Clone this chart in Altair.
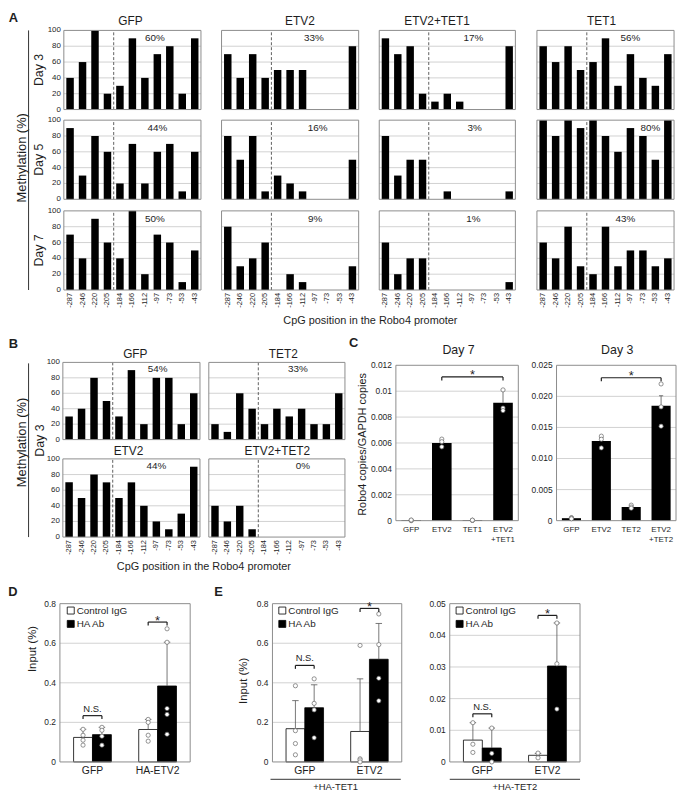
import pandas as pd
import altair as alt

# ---------------- data ----------------
CPG_POSITIONS = ["-287", "-246", "-220", "-205", "-184", "-166", "-112", "-97", "-73", "-53", "-43"]

A_GROUPS = ["GFP", "ETV2", "ETV2+TET1", "TET1"]
A_DAYS = ["Day 3", "Day 5", "Day 7"]
A_GFP = [[40, 60, 100, 20, 30, 90, 40, 70, 80, 20, 90],
         [90, 30, 80, 60, 20, 70, 20, 60, 70, 10, 60],
         [70, 40, 90, 60, 40, 100, 20, 70, 60, 10, 50]]
A_ETV2 = [[70, 40, 70, 40, 50, 50, 50, 0, 0, 0, 80],
          [80, 50, 80, 10, 30, 20, 10, 0, 0, 0, 50],
          [80, 30, 40, 60, 0, 20, 10, 0, 0, 0, 30]]
A_ETV2_TET1 = [[90, 70, 80, 20, 10, 20, 10, 0, 0, 0, 80],
               [80, 30, 50, 50, 0, 10, 0, 0, 0, 0, 10],
               [60, 20, 40, 40, 0, 0, 0, 0, 0, 0, 10]]
A_TET1 = [[80, 60, 80, 50, 60, 90, 30, 70, 40, 30, 70],
          [100, 80, 100, 90, 100, 80, 60, 90, 80, 50, 100],
          [60, 40, 80, 30, 20, 80, 30, 50, 50, 30, 40]]
A_PCT = [["60%", "33%", "17%", "56%"],
         ["44%", "16%", "3%", "80%"],
         ["50%", "9%", "1%", "43%"]]

B_GROUPS = ["GFP", "TET2", "ETV2", "ETV2+TET2"]
B_GFP = [30, 40, 80, 50, 30, 90, 20, 80, 80, 20, 60]
B_TET2 = [20, 10, 60, 40, 20, 40, 30, 40, 20, 20, 60]
B_ETV2 = [70, 50, 80, 70, 50, 70, 40, 20, 10, 30, 90]
B_ETV2_TET2 = [40, 20, 40, 10, 0, 0, 0, 0, 0, 0, 0]
B_PCT = ["54%", "33%", "44%", "0%"]

C7_CATS = ["GFP", "ETV2", "TET1", "ETV2+TET1"]
C7_MEAN = [0.00005, 0.0060, 0.00005, 0.0091]
C7_TOP = [0.00005, 0.0062, 0.00005, 0.0101]
C7_PTS = [[0.0, 0.00003, 0.00005], [0.0063, 0.0061, 0.0057],
          [0.00002, 0.00003, 0.00004], [0.0101, 0.0087, 0.0085]]
C3_CATS = ["GFP", "ETV2", "TET2", "ETV2+TET2"]
C3_MEAN = [0.0004, 0.0128, 0.0022, 0.0185]
C3_TOP = [0.0005, 0.0134, 0.0024, 0.0201]
C3_PTS = [[0.0005, 0.0004, 0.0003], [0.0136, 0.0131, 0.0117],
          [0.0025, 0.0022, 0.0020], [0.0220, 0.0183, 0.0152]]

SERIES = ["Control IgG", "HA Ab"]
D_GROUPS = ["GFP", "HA-ETV2"]
D_CTRL_MEAN = [0.124, 0.164]
D_HA_MEAN = [0.138, 0.384]
D_CTRL_TOP = [0.165, 0.215]
D_HA_TOP = [0.175, 0.605]
D_CTRL_PTS = [[0.165, 0.135, 0.11, 0.085], [0.215, 0.2, 0.135, 0.105]]
D_HA_PTS = [[0.175, 0.16, 0.13, 0.085], [0.673, 0.605, 0.27, 0.24, 0.14]]

E_GROUPS = ["GFP", "ETV2"]
E1_CTRL_MEAN = [0.168, 0.154]
E1_HA_MEAN = [0.274, 0.519]
E1_CTRL_TOP = [0.31, 0.42]
E1_HA_TOP = [0.39, 0.70]
E1_CTRL_PTS = [[0.385, 0.158, 0.093, 0.036], [0.589, 0.016, 0.01, 0.0]]
E1_HA_PTS = [[0.42, 0.296, 0.263, 0.122], [0.748, 0.593, 0.423, 0.309]]
E2_CTRL_MEAN = [0.0069, 0.0021]
E2_HA_MEAN = [0.0044, 0.0303]
E2_CTRL_TOP = [0.0124, 0.0027]
E2_HA_TOP = [0.0107, 0.0439]
E2_CTRL_PTS = [[0.0124, 0.0056, 0.003], [0.0028, 0.0013]]
E2_HA_PTS = [[0.0107, 0.0027, 0.0], [0.0439, 0.031, 0.0167]]

# ---------------- layout ----------------
W, H = 676, 786
SX = W / 683.0
SY = H / 806.0


def cx(v):
    return round((v - 2) * SX, 2)


def cy(v):
    return round((v - 2) * SY, 2)


FONT = "Liberation Sans"
INK = "#1e1e1e"
GRID = "#c6c6c6"
FRAME = "#8c8c8c"
ONE = pd.DataFrame({"k": [0]})


def qscale(dom, rng):
    return alt.Scale(domain=dom, range=rng, nice=False, zero=False)


def frame_grid(xs, ys, x0, x1, ymax, gvals):
    X = lambda v: alt.XDatum(v, scale=xs, axis=None, type="quantitative")
    Y = lambda v: alt.YDatum(v, scale=ys, axis=None, type="quantitative")
    grid = alt.Chart(pd.DataFrame({"g": gvals})).mark_rule(color=GRID, strokeWidth=0.8).encode(
        x=X(x0), x2=alt.X2Datum(x1), y=alt.Y("g:Q", scale=ys, axis=None))
    frame = alt.Chart(ONE).mark_rect(fillOpacity=0, stroke=FRAME, strokeWidth=1).encode(
        x=X(x0), x2=alt.X2Datum(x1), y=Y(0), y2=alt.Y2Datum(ymax))
    return grid, frame


def y_labels(ys, ticks, x_px, expr, size):
    """Tick labels placed through the panel's y scale."""
    return alt.Chart(pd.DataFrame({"v": ticks})).transform_calculate(t=expr).mark_text(
        font=FONT, fontSize=size, color=INK, align="right", baseline="middle").encode(
        y=alt.Y("v:Q", scale=ys, axis=None), x=alt.value(x_px), text="t:N")


def meth_panel(vals, pct, pct_x, xr, yr, show_y, show_x, pct_y=90):
    xs = qscale([0.5, 11.5], [cx(xr[0]), cx(xr[1])])
    ys = qscale([0, 100], [cy(yr[1]), cy(yr[0])])
    X = lambda v: alt.XDatum(v, scale=xs, axis=None, type="quantitative")
    Y = lambda v: alt.YDatum(v, scale=ys, axis=None, type="quantitative")
    grid, frame = frame_grid(xs, ys, 0.5, 11.5, 100, [20, 40, 60, 80])
    df = pd.DataFrame({"pos": CPG_POSITIONS, "v": vals, "i": list(range(1, 12))})
    bars = alt.Chart(df).transform_calculate(
        lo="datum.i - 0.3", hi="datum.i + 0.3", z="0"
    ).mark_rect(color="black").encode(
        x=alt.X("lo:Q", scale=xs, axis=None), x2="hi:Q",
        y=alt.Y("v:Q", scale=ys, axis=None), y2="z:Q")
    dash = alt.Chart(ONE).mark_rule(color="#4d4d4d", strokeDash=[3, 2], strokeWidth=0.9).encode(
        x=X(4.5), y=Y(0), y2=alt.Y2Datum(100))
    txt = alt.Chart(pd.DataFrame({"t": [pct]})).mark_text(
        font=FONT, fontSize=10, color=INK, baseline="middle").encode(
        x=X(pct_x), y=Y(pct_y), text="t:N")
    parts = [grid, bars, dash, frame, txt]
    if show_y:
        parts.append(y_labels(ys, [0, 20, 40, 60, 80, 100], cx(xr[0]) - 3,
                              "format(datum.v, '~g')", 8))
    if show_x:
        parts.append(alt.Chart(df).mark_text(
            font=FONT, fontSize=7.5, color=INK, angle=270, align="right", baseline="middle").encode(
            x=alt.X("i:Q", scale=xs, axis=None), y=alt.value(cy(yr[1]) + 3), text="pos:N"))
    return alt.layer(*parts)


def bracket_layers(xs, ys, px_per, i1, i2, yb, label):
    X = lambda v: alt.XDatum(v, scale=xs, axis=None, type="quantitative")
    Y = lambda v: alt.YDatum(v, scale=ys, axis=None, type="quantitative")
    leg = 3.5 / px_per
    hb = alt.Chart(ONE).mark_rule(color=INK, strokeWidth=1.2).encode(
        x=X(i1), x2=alt.X2Datum(i2), y=Y(yb))
    legs = alt.Chart(pd.DataFrame({"e": [i1, i2]})).mark_rule(color=INK, strokeWidth=1.2).encode(
        x=alt.X("e:Q", scale=xs, axis=None), y=Y(yb), y2=alt.Y2Datum(yb - leg))
    if label == "*":
        t = alt.Chart(pd.DataFrame({"t": [label]})).mark_text(
            font=FONT, fontSize=13, color=INK, baseline="alphabetic", dy=2.5).encode(
            x=X((i1 + i2) / 2), y=Y(yb), text="t:N")
    else:
        t = alt.Chart(pd.DataFrame({"t": [label]})).mark_text(
            font=FONT, fontSize=9.5, color=INK, baseline="alphabetic", dy=-4).encode(
            x=X((i1 + i2) / 2), y=Y(yb), text="t:N")
    return [hb, legs, t]


def expr_panel(cats, means, tops, pts, ticks, ylabel_expr, xr, yr, bracket):
    n = len(cats)
    ymax = ticks[-1]
    xs = qscale([-0.5, n - 0.5], [cx(xr[0]), cx(xr[1])])
    ys = qscale([0, ymax], [cy(yr[1]), cy(yr[0])])
    px_per = (cy(yr[1]) - cy(yr[0])) / ymax
    grid, frame = frame_grid(xs, ys, -0.5, n - 0.5, ymax, ticks[1:-1])
    df = pd.DataFrame({"cat": cats, "m": means, "top": tops, "i": list(range(n))})
    bars = alt.Chart(df).transform_calculate(
        lo="datum.i - 0.32", hi="datum.i + 0.32", z="0"
    ).mark_rect(color="black").encode(
        x=alt.X("lo:Q", scale=xs, axis=None), x2="hi:Q",
        y=alt.Y("m:Q", scale=ys, axis=None), y2="z:Q")
    err = alt.Chart(df).transform_filter("datum.top > datum.m").mark_rule(
        color="#555555", strokeWidth=0.8).encode(
        x=alt.X("i:Q", scale=xs, axis=None), y=alt.Y("m:Q", scale=ys, axis=None), y2="top:Q")
    cap = alt.Chart(df).transform_filter("datum.top > datum.m").transform_calculate(
        a="datum.i - 0.07", b="datum.i + 0.07").mark_rule(color="#555555", strokeWidth=0.8).encode(
        x=alt.X("a:Q", scale=xs, axis=None), x2="b:Q", y=alt.Y("top:Q", scale=ys, axis=None))
    pdf = pd.DataFrame({"i": [i for i, vs in enumerate(pts) for _ in vs],
                        "v": [v for vs in pts for v in vs]})
    dots = alt.Chart(pdf).mark_circle(fill="white", stroke="#666666", strokeWidth=0.7,
                                      size=18, opacity=1).encode(
        x=alt.X("i:Q", scale=xs, axis=None), y=alt.Y("v:Q", scale=ys, axis=None))
    xlab = alt.Chart(df).transform_calculate(t="replace(datum.cat, '+', '\\n+')").mark_text(
        font=FONT, fontSize=8, color=INK, align="center", baseline="top", lineBreak="\n",
        lineHeight=11).encode(
        x=alt.X("i:Q", scale=xs, axis=None), y=alt.value(cy(yr[1]) + 5), text="t:N")
    ylab = y_labels(ys, ticks, cx(xr[0]) - 4, ylabel_expr, 8.5)
    br = bracket_layers(xs, ys, px_per, bracket[0], bracket[1], bracket[2], "*")
    return alt.layer(grid, bars, err, cap, frame, dots, xlab, ylab, *br)


BW = 0.29


def chip_panel(groups, cm, hm, ct, ht, cp, hp, ticks, xr, yr, brackets, legend_pos):
    ymax = ticks[-1]
    xs = qscale([-0.5, 1.5], [cx(xr[0]), cx(xr[1])])
    ys = qscale([0, ymax], [cy(yr[1]), cy(yr[0])])
    px_per = (cy(yr[1]) - cy(yr[0])) / ymax
    grid, frame = frame_grid(xs, ys, -0.5, 1.5, ymax, ticks[1:-1])
    rows, prow = [], []
    for g in range(len(groups)):
        for s, (mm, tt, pp) in enumerate([(cm, ct, cp), (hm, ht, hp)]):
            rows.append(dict(grp=groups[g], series=SERIES[s], g=g, s=s, m=mm[g], top=tt[g]))
            for v in pp[g]:
                prow.append(dict(g=g, s=s, v=v))
    df = pd.DataFrame(rows)
    pdf = pd.DataFrame(prow)
    gdf = pd.DataFrame({"grp": groups, "g": list(range(len(groups)))})
    legend = alt.Legend(title=None, orient="none", legendX=cx(legend_pos[0]), legendY=cy(legend_pos[1]),
                        direction="vertical", symbolType="square", symbolSize=50,
                        symbolStrokeColor="black", symbolStrokeWidth=0.8, labelFont=FONT,
                        labelFontSize=10, labelColor=INK, labelOffset=1, rowPadding=1.5, padding=0)
    bars = alt.Chart(df).transform_calculate(
        lo=f"datum.g + (datum.s - 1) * {BW}", hi=f"datum.g + datum.s * {BW}", z="0"
    ).mark_rect(stroke="black", strokeWidth=0.8).encode(
        x=alt.X("lo:Q", scale=xs, axis=None), x2="hi:Q",
        y=alt.Y("m:Q", scale=ys, axis=None), y2="z:Q",
        fill=alt.Fill("series:N", scale=alt.Scale(domain=SERIES, range=["white", "black"]),
                      legend=legend))
    cexpr = f"datum.g + (datum.s - 0.5) * {BW}"
    err = alt.Chart(df).transform_filter("datum.top > datum.m").transform_calculate(
        c=cexpr).mark_rule(color="#555555", strokeWidth=0.8).encode(
        x=alt.X("c:Q", scale=xs, axis=None), y=alt.Y("m:Q", scale=ys, axis=None), y2="top:Q")
    cap = alt.Chart(df).transform_filter("datum.top > datum.m").transform_calculate(
        a=cexpr + " - 0.05", b=cexpr + " + 0.05").mark_rule(color="#555555", strokeWidth=0.8).encode(
        x=alt.X("a:Q", scale=xs, axis=None), x2="b:Q", y=alt.Y("top:Q", scale=ys, axis=None))
    dots = alt.Chart(pdf).transform_calculate(c=cexpr).mark_circle(
        fill="white", stroke="#666666", strokeWidth=0.7, size=18, opacity=1).encode(
        x=alt.X("c:Q", scale=xs, axis=None), y=alt.Y("v:Q", scale=ys, axis=None))
    xlab = alt.Chart(gdf).mark_text(
        font=FONT, fontSize=10.5, color=INK, align="center", baseline="top").encode(
        x=alt.X("g:Q", scale=xs, axis=None), y=alt.value(cy(yr[1]) + 4), text="grp:N")
    ylab = y_labels(ys, ticks, cx(xr[0]) - 4, "format(datum.v, '~g')", 8.5)
    br = []
    for g, yb, lab in brackets:
        br += bracket_layers(xs, ys, px_per, g - BW / 2, g + BW / 2, yb, lab)
    return alt.layer(grid, bars, err, cap, frame, dots, xlab, ylab, *br)


def note(text, x, y, size, weight="normal", angle=0, align="center", baseline="middle"):
    kw = dict(font=FONT, fontSize=size, fontWeight=weight, color=INK, align=align, baseline=baseline)
    if angle:
        kw["angle"] = angle
    return alt.Chart(pd.DataFrame({"t": [text]})).mark_text(**kw).encode(
        x=alt.value(cx(x)), y=alt.value(cy(y)), text="t:N")


def vline(x, y0, y1):
    return alt.Chart(ONE).mark_rule(color="#333333", strokeWidth=1).encode(
        x=alt.value(cx(x)), y=alt.value(cy(y0)), y2=alt.value(cy(y1)))


def hline(x0, x1, y):
    return alt.Chart(ONE).mark_rule(color="#333333", strokeWidth=1).encode(
        x=alt.value(cx(x0)), x2=alt.value(cx(x1)), y=alt.value(cy(y)))


layers = []

# ----- panel A -----
A_X = [(59, 199), (220, 360), (381, 520), (542, 682)]
A_Y = [(21, 103), (114, 196), (208, 290)]
A_PCT_X = [[7.8, 7.9, 8.1, 8.0], [8.0, 8.2, 8.2, 9.6], [7.8, 8.0, 8.1, 7.6]]
A_VALUES = [A_GFP, A_ETV2, A_ETV2_TET1, A_TET1]
for r in range(3):
    for c in range(4):
        layers.append(meth_panel(A_VALUES[c][r], A_PCT[r][c], A_PCT_X[r][c], A_X[c], A_Y[r],
                                 show_y=(c == 0), show_x=(r == 2)))

# ----- panel B -----
B_X = [(58, 198), (207, 346)]
B_Y = [(365, 445), (465, 546)]
B_VALUES = [B_GFP, B_TET2, B_ETV2, B_ETV2_TET2]
B_PCT_X = [8.1, 7.7, 8.0, 8.1]
for k in range(4):
    r, c = divmod(k, 2)
    layers.append(meth_panel(B_VALUES[k], B_PCT[k], B_PCT_X[k], B_X[c], B_Y[r],
                             show_y=(c == 0), show_x=(r == 1), pct_y=91))

# ----- panel C -----
C_Y = (368, 529)
layers.append(expr_panel(C7_CATS, C7_MEAN, C7_TOP, C7_PTS,
                         [0, 0.002, 0.004, 0.006, 0.008, 0.01, 0.012],
                         "format(datum.v, '~g')", (398, 523), C_Y, (1, 3, 0.0111)))
layers.append(expr_panel(C3_CATS, C3_MEAN, C3_TOP, C3_PTS,
                         [0, 0.005, 0.01, 0.015, 0.02, 0.025],
                         "datum.v == 0 ? '0' : format(datum.v, '.3f')",
                         (562, 684), C_Y, (1, 3, 0.0230)))

# ----- panels D, E -----
DE_Y = (615, 779)
layers.append(chip_panel(D_GROUPS, D_CTRL_MEAN, D_HA_MEAN, D_CTRL_TOP, D_HA_TOP, D_CTRL_PTS, D_HA_PTS,
                         [0, 0.2, 0.4, 0.6, 0.8], (55, 188), DE_Y,
                         [(0, 0.234, "N.S."), (1, 0.707, "*")], (61, 617)))
layers.append(chip_panel(E_GROUPS, E1_CTRL_MEAN, E1_HA_MEAN, E1_CTRL_TOP, E1_HA_TOP, E1_CTRL_PTS, E1_HA_PTS,
                         [0, 0.2, 0.4, 0.6, 0.8], (272, 404), DE_Y,
                         [(0, 0.488, "N.S."), (1, 0.776, "*")], (277, 617)))
layers.append(chip_panel(E_GROUPS, E2_CTRL_MEAN, E2_HA_MEAN, E2_CTRL_TOP, E2_HA_TOP, E2_CTRL_PTS, E2_HA_PTS,
                         [0, 0.01, 0.02, 0.03, 0.04, 0.05], (453, 586), DE_Y,
                         [(0, 0.0152, "N.S."), (1, 0.0463, "*")], (458, 617)))

# ----- annotation text -----
PANEL_LETTERS = ["A", "B", "C", "D", "E"]
LETTER_XY = [(7.5, 8.5), (7.5, 346), (355, 345), (7, 603), (217, 603)]
for t, (x, y) in zip(PANEL_LETTERS, LETTER_XY):
    layers.append(note(t, x, y, 13, weight="bold"))

A_TITLE_X = [127, 300, 440, 608]
for t, x in zip(A_GROUPS, A_TITLE_X):
    layers.append(note(t, x, 11, 12))
B_TITLE_XY = [(132, 356), (283, 356), (125, 457), (277, 457)]
for t, (x, y) in zip(B_GROUPS, B_TITLE_XY):
    layers.append(note(t, x, y, 12))
C_TITLES = ["Day 7", "Day 3"]
for t, x in zip(C_TITLES, [462, 624]):
    layers.append(note(t, x, 352, 12.5))

for t, (y0, y1) in zip(A_DAYS, A_Y):
    layers.append(note(t, 34, (y0 + y1) / 2, 12.5, angle=270))
layers.append(note("Day 3", 35, 446, 12.5, angle=270))

Y_TITLE = "Methylation (%)"
layers.append(note(Y_TITLE, 16, 153, 13, angle=270))
layers.append(note(Y_TITLE, 16, 448, 13, angle=270))
layers.append(vline(23, 21, 290))
layers.append(vline(23, 366, 546))

X_TITLE = "CpG position in the Robo4 promoter"
layers.append(note(X_TITLE, 372, 322, 11))
layers.append(note(X_TITLE, 202, 577, 11))

layers.append(note("Robo4 copies/GAPDH copies", 364, 450, 11, angle=270))
layers.append(note("Input (%)", 28, 662, 11.5, angle=270))
layers.append(note("Input (%)", 243, 695, 11.5, angle=270))

E_SUBS = ["+HA-TET1", "+HA-TET2"]
for t, (x0, x1) in zip(E_SUBS, [(270, 403), (453, 586)]):
    layers.append(hline(x0, x1, 797))
    layers.append(note(t, (x0 + x1) / 2, 799.5, 9.5, baseline="top"))

chart = alt.layer(*layers).resolve_scale(
    x="independent", y="independent", fill="independent"
).properties(
    width=W, height=H, padding=0, autosize=alt.AutoSizeParams(type="none")
).configure(font=FONT).configure_view(strokeWidth=0)

chart.save("out.html", embed_options={"renderer": "svg", "actions": False})
